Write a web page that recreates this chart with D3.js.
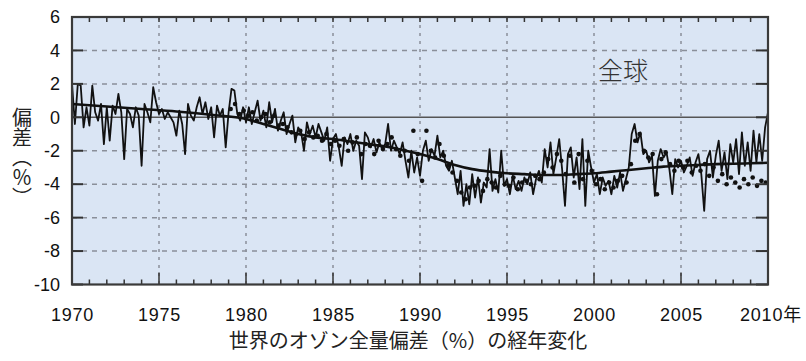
<!DOCTYPE html>
<html><head><meta charset="utf-8">
<script src="https://cdn.jsdelivr.net/npm/d3@7"></script>
<style>body{margin:0;background:#fff}svg{display:block}</style>
</head><body><svg id="c" width="806" height="361"></svg>
<script>
// ---- data ----
const yearStart = 1970, yearEnd = 2010;
const yTicks = [6,4,2,0,-2,-4,-6,-8,-10];
const xTickLabels = [1970,1975,1980,1985,1990,1995,2000,2005];
const lastLabel = "2010年";
const regionLabel = "全球";
const yTitle = "偏差（％）";
const titleText = "世界のオゾン全量偏差（%）の経年変化";
// bimonthly anomaly (%), 6 per year 1970-2009, plus 2010.0
const anomaly = [
 2.0,-0.4,2.0,1.9,-0.6,0.6,
 -0.5,1.9,0.3,-0.2,0.8,-1.6,
 0.6,-1.4,0.7,0.2,1.4,0.3,
 -2.5,0.5,0.2,-0.6,0.6,0.1,
 -2.9,0.8,0.3,-0.3,1.8,0.9,
 0.2,0.5,-0.1,0.3,0.0,-0.3,
 -1.1,0.4,-0.4,-2.2,0.8,0.1,
 -0.2,0.6,1.2,0.2,0.9,-0.1,
 0.6,-1.2,0.7,0.1,0.5,-1.8,
 0.3,1.7,1.6,0.2,-0.2,0.6,
 -0.3,0.6,-0.4,0.3,1.0,-0.2,
 0.4,-0.6,0.9,-0.3,0.5,-0.8,
 -0.2,0.3,-1.0,-0.4,0.1,-1.5,
 -0.6,-0.9,-2.0,-0.3,-1.0,-0.5,
 -1.2,-0.4,-0.9,-1.4,-0.6,-2.6,
 -1.3,-1.0,-1.8,-2.9,-1.2,-1.6,
 -1.0,-2.0,-1.4,-1.7,-3.7,-0.9,
 -1.2,-1.8,-1.3,-2.1,-1.5,-1.9,
 -1.6,-0.4,-2.0,-1.4,-1.8,-2.2,
 -1.5,-2.6,-3.6,-2.0,-3.3,-2.4,
 -3.5,-2.0,-1.4,-2.6,-1.9,-2.3,
 -1.1,-2.4,-2.0,-2.9,-3.2,-2.6,
 -3.6,-4.6,-3.2,-5.3,-4.0,-5.2,
 -3.4,-4.8,-3.6,-5.1,-3.9,-4.2,
 -1.9,-4.4,-3.7,-4.5,-2.0,-4.1,
 -3.7,-4.6,-3.5,-4.3,-3.8,-4.4,
 -3.6,-4.0,-3.3,-4.6,-3.7,-3.2,
 -3.9,-1.9,-3.0,-1.5,-3.4,-2.4,
 -1.3,-3.1,-5.3,-2.2,-1.8,-3.6,
 -2.4,-4.3,-1.3,-5.3,-2.0,-3.0,
 -3.9,-3.4,-4.6,-3.6,-4.1,-3.8,
 -4.6,-3.5,-4.2,-3.3,-4.4,-3.7,
 -3.0,-1.0,-0.4,-1.5,-0.9,-2.2,
 -2.0,-2.7,-2.3,-4.7,-2.6,-1.9,
 -2.4,-2.1,-3.1,-4.6,-2.5,-3.0,
 -2.6,-3.3,-2.9,-2.4,-3.5,-2.7,
 -2.2,-3.4,-5.6,-2.5,-2.0,-3.6,
 -2.3,-1.4,-3.2,-2.1,-3.7,-1.6,
 -2.7,-1.3,-3.4,-0.9,-2.9,-1.5,
 -3.2,-0.8,-2.7,-1.0,-2.6,-0.6,
 0.3
];
// quarterly dots from 1979
const dotStart = 1979;
const dots = [
 0.5,0.8,0.2,0.4, 0.1,0.3,-0.2,0.0, 0.2,-0.3,0.1,-0.5, -0.4,-0.6,-0.9,-1.0,
 -0.8,-1.3,-0.9,-1.2, -1.1,-1.4,-1.0,-1.6, -1.4,-1.7,-1.3,-2.0, -1.5,-1.2,-2.2,-1.6,
 -1.7,-2.2,-1.4,-1.9, -1.6,-1.2,-1.9,-2.3, -2.0,-2.6,-0.8,-2.2, -3.8,-0.8,-2.0,-2.4,
 -1.6,-2.3,-2.9,-3.3, -3.8,-4.5,-4.9,-4.2, -4.1,-3.8,-4.4,-3.7, -3.9,-4.2,-3.5,-4.0,
 -4.1,-3.6,-4.3,-3.9, -3.8,-4.0,-3.5,-3.7, -3.3,-2.5,-3.0,-2.2, -2.6,-3.4,-2.3,-3.9,
 -2.2,-3.7,-2.6,-3.2, -4.0,-3.7,-4.3,-3.9, -4.2,-3.8,-3.5,-3.9, -2.8,-1.4,-1.0,-2.0,
 -2.4,-2.2,-4.6,-2.5, -2.1,-2.8,-3.2,-2.6, -3.0,-2.6,-3.3,-2.9, -3.2,-2.8,-3.5,-3.0,
 -3.8,-3.4,-4.0,-3.6, -3.9,-4.2,-3.7,-4.0, -3.6,-4.1,-3.8,-3.9
];
const trendYears = [1970,1972,1974,1976,1978,1980,1981,1982,1983,1984,1985,1986,1987,1988,1989,1990,1991,1992,1993,1994,1995,1996,1997,1998,1999,2000,2001,2002,2003,2004,2005,2006,2007,2008,2009,2010];
const trendValues = [0.8,0.65,0.5,0.35,0.15,-0.1,-0.4,-0.7,-1.0,-1.2,-1.3,-1.45,-1.6,-1.75,-1.95,-2.2,-2.5,-2.85,-3.1,-3.25,-3.35,-3.4,-3.45,-3.45,-3.4,-3.35,-3.25,-3.15,-3.05,-2.95,-2.9,-2.85,-2.8,-2.78,-2.75,-2.72];

// ---- drawing ----
const svg = d3.select("#c");
const L=72, R=768, T=17, B=284.5;
const x = d3.scaleLinear().domain([yearStart, yearEnd]).range([L, R]);
const y = d3.scaleLinear().domain([-10, 6]).range([B, T]);
const font = "'Liberation Sans', Arial, sans-serif";
const cjk = "'Noto Sans CJK JP', sans-serif";

svg.append("rect").attr("x",L).attr("y",T).attr("width",R-L).attr("height",B-T).attr("fill","#dae5f4");
svg.append("defs").append("clipPath").attr("id","clip").append("rect")
  .attr("x",L).attr("y",T).attr("width",R-L).attr("height",B-T);

const grid = svg.append("g");
grid.selectAll("line.h").data(yTicks.filter(v=>v!==0 && v!==6 && v!==-10)).join("line")
  .attr("x1",L).attr("x2",R).attr("y1",d=>y(d)).attr("y2",d=>y(d))
  .attr("stroke","#8a8f99").attr("stroke-width",1.5).attr("stroke-dasharray","5,5");
grid.selectAll("line.v").data(xTickLabels.filter(v=>v!==1970)).join("line")
  .attr("x1",d=>x(d)).attr("x2",d=>x(d)).attr("y1",T).attr("y2",B)
  .attr("stroke","#8a8f99").attr("stroke-width",1.5).attr("stroke-dasharray","3,5");
grid.append("line").attr("x1",L).attr("x2",R).attr("y1",y(0)).attr("y2",y(0))
  .attr("stroke","#555").attr("stroke-width",1.5);

const plot = svg.append("g").attr("clip-path","url(#clip)");
const anomPts = anomaly.map((v,i)=>[yearStart + i/6, v]);
plot.append("path").datum(anomPts)
  .attr("d", d3.line().x(d=>x(d[0])).y(d=>y(d[1])))
  .attr("fill","none").attr("stroke","#111").attr("stroke-width",1.8).attr("stroke-linejoin","round");
const dotPts = dots.map((v,i)=>[dotStart + i/4 + 0.12, v]);
plot.selectAll("circle").data(dotPts).join("circle")
  .attr("cx",d=>x(d[0])).attr("cy",d=>y(d[1])).attr("r",2.3).attr("fill","#111");
const trendPts = trendYears.map((yr,i)=>[yr, trendValues[i]]);
plot.append("path").datum(trendPts)
  .attr("d", d3.line().curve(d3.curveMonotoneX).x(d=>x(d[0])).y(d=>y(d[1])))
  .attr("fill","none").attr("stroke","#111").attr("stroke-width",2.6);

const years = d3.range(yearStart+1, yearEnd);
const tk = svg.append("g").attr("stroke","#333").attr("stroke-width",1.5);
tk.selectAll("line.b").data(years).join("line")
  .attr("x1",d=>x(d)).attr("x2",d=>x(d)).attr("y1",B).attr("y2",d=>B-(d%5===0?12:5));
tk.selectAll("line.t").data(years).join("line")
  .attr("x1",d=>x(d)).attr("x2",d=>x(d)).attr("y1",T).attr("y2",T+5);
tk.selectAll("line.l").data(yTicks).join("line")
  .attr("x1",L).attr("x2",L+11).attr("y1",d=>y(d)).attr("y2",d=>y(d)).attr("stroke-width",2);
tk.selectAll("line.r").data(yTicks).join("line")
  .attr("x1",R-12).attr("x2",R).attr("y1",d=>y(d)).attr("y2",d=>y(d)).attr("stroke-width",2);

svg.append("rect").attr("x",L).attr("y",T).attr("width",R-L).attr("height",B-T)
  .attr("fill","none").attr("stroke","#3a3a3a").attr("stroke-width",2.2);

const ax = svg.append("g").attr("transform",`translate(${L},0)`)
  .call(d3.axisLeft(y).tickValues(yTicks).tickSize(0).tickPadding(12).tickFormat(d=>String(d)));
ax.select(".domain").remove();
ax.selectAll("text").attr("font-family",font).attr("font-size",18).attr("fill","#111");

const bx = svg.append("g").attr("transform",`translate(0,${B})`)
  .call(d3.axisBottom(x).tickValues(xTickLabels).tickSize(0).tickPadding(24).tickFormat(d=>String(d)));
bx.select(".domain").remove();
bx.selectAll("text").attr("font-family",font).attr("font-size",18).attr("fill","#111").attr("letter-spacing","0.8px");
svg.append("text").attr("x",x(yearEnd)-28).attr("y",321).attr("font-family",font).attr("font-size",18)
  .attr("letter-spacing","0.8px").attr("fill","#111").text(lastLabel.replace("年",""))
  .append("tspan").attr("font-family",cjk).attr("font-size",18).text("年");

// y-axis title (vertical writing)
svg.append("text").attr("x",22).attr("y",107)
  .attr("font-family",cjk).attr("font-size",20).attr("fill","#222")
  .style("writing-mode","vertical-rl").style("glyph-orientation-vertical","0")
  .text(yTitle);

svg.append("text").attr("x",598).attr("y",80).attr("font-family",cjk).attr("font-size",25)
  .attr("font-weight",300).attr("fill","#333").text(regionLabel);

svg.append("text").attr("x",408).attr("y",348).attr("text-anchor","middle").attr("font-family",cjk)
  .attr("font-size",20).attr("fill","#222").text(titleText);
</script></body></html>
